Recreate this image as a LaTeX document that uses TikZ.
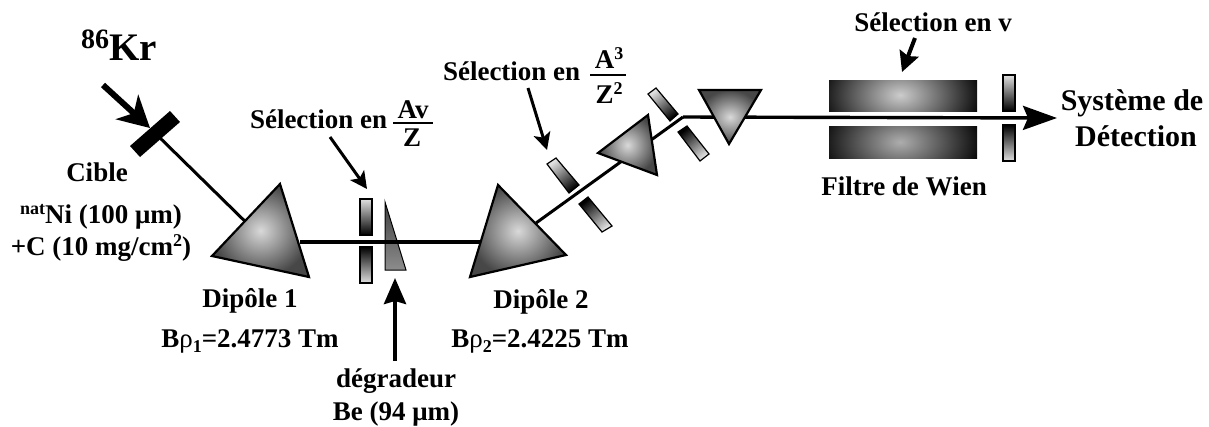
\documentclass[tikz,border=0pt]{standalone}
\usepackage{fontspec}
\setmainfont{Liberation Serif}
\usetikzlibrary{arrows.meta}
\newcommand{\fsz}[1]{\fontsize{#1}{#1}\selectfont\bfseries}
\tikzset{
  lbl/.style={inner sep=0pt,outer sep=0pt,anchor=base,font=\fsz{27}},
  lblbig/.style={lbl,font=\fsz{30}},
  beam/.style={line width=3.4pt,black},
  prism/.style={draw=black,line width=2.2pt,line join=miter,inner color=black!15,outer color=black!72},
  uslit/.style={draw=black,line width=1.2pt,top color=black!12,middle color=black!40,bottom color=black},
  lslit/.style={draw=black,line width=1.2pt,top color=black,middle color=black!40,bottom color=black!12},
  ptr/.style={line width=3pt,-{Stealth[length=17pt,width=17pt,inset=4pt]}},
  bigptr/.style={line width=6pt,-{Stealth[length=31pt,width=33pt,inset=9pt]}},
  midptr/.style={line width=4pt,-{Stealth[length=26pt,width=22pt,inset=3pt]}},
  fbar/.style={line width=2pt}
}
\begin{document}
\begin{tikzpicture}[x=1pt,y=-1pt]
\useasboundingbox[fill=white] (0,0) rectangle (1209,426);
% beam coordinates
\coordinate (tgt) at (155,133);
\coordinate (d1) at (262,238);
\coordinate (b1) at (300,242);
\coordinate (b2) at (482,242);
\coordinate (b3) at (536,223);
\coordinate (b4) at (683,117);
\coordinate (b5) at (1057,118);
% slits and degrader
\shade[uslit] (360,199) rectangle (372,235);
\shade[lslit] (360,247) rectangle (372,283);
\shade[draw=black,line width=1pt,top color=black!75,bottom color=black!45] (385,202) -- (406,270) -- (385,270) -- cycle;
\shade[uslit,shading angle=39] (556,158) -- (547,164) -- (569,193) -- (579,185) -- cycle;
\shade[lslit,shading angle=39] (588,197) -- (579,204) -- (602,232) -- (612,226) -- cycle;
\shade[uslit,shading angle=39] (656,88) -- (648,94) -- (670,121) -- (678,114) -- cycle;
\shade[lslit,shading angle=39] (687,126) -- (678,132) -- (700,161) -- (709,154) -- cycle;
% Wien filter
\begin{scope}
\clip (829,80) rectangle (977,111);
\fill[black] (829,80) rectangle (977,111);
\shade[inner color=black!20,outer color=black] (815,40) rectangle (985,150);
\end{scope}
\begin{scope}
\clip (829,126) rectangle (977,158);
\fill[black] (829,126) rectangle (977,158);
\shade[inner color=black!32,outer color=black] (815,90) rectangle (985,194);
\end{scope}
\shade[uslit] (1003,75) rectangle (1015,111);
\shade[lslit] (1003,125) rectangle (1015,161);
% beam
\draw[line width=3pt] (tgt) -- (d1);
\draw[beam] (b1) -- (b2);
\draw[line width=3pt] (b3) -- (b4);
\draw[beam,-{Stealth[length=34pt,width=24pt,inset=5pt]}] (b4) -- (b5);
% prisms
\shade[prism] (280,184) -- (309,277) -- (212,256) -- cycle;
\shade[prism] (498,185) -- (566,255) -- (470,277) -- cycle;
\shade[prism] (648,115) -- (657,175) -- (598,153) -- cycle;
\shade[prism] (699,90) -- (761,90) -- (729,144) -- cycle;
% target
\fill[black] (170,111) -- (180,122) -- (140,157) -- (130,146) -- cycle;
% pointers
\coordinate (a0) at (103,85);
\coordinate (a1) at (150,128);
\draw[bigptr] (a0) -- (a1);
\coordinate (c0) at (330,137);
\coordinate (c1) at (367,189);
\draw[ptr] (c0) -- (c1);
\coordinate (e0) at (395,361);
\coordinate (e1) at (395,278);
\draw[midptr] (e0) -- (e1);
\coordinate (f0) at (528,88);
\coordinate (f1) at (547,150);
\draw[ptr] (f0) -- (f1);
\coordinate (g0) at (915,38);
\coordinate (g1) at (902,72);
\draw[line width=4pt,-{Stealth[length=20pt,width=20pt,inset=3pt]}] (g0) -- (g1);
% labels
\node[lbl,font=\fsz{39}] (kr) at (119,60) {\raisebox{12pt}{\fsz{28}86}Kr};
\node[lbl] (cible) at (97,181) {Cible};
\node[lbl] (ni) at (101,223) {\raisebox{9pt}{\fsz{18}nat}Ni (100 μm)};
\node[lbl] (c) at (101,255) {+C (10 mg/cm\raisebox{9pt}{\fsz{18}2})};
\node[lbl] (dip1) at (250,307) {Dipôle 1};
\node[lbl] (brho1) at (250,347) {B{\mdseries ρ}\raisebox{-5pt}{\fsz{18}1}=2.4773 Tm};
\node[lbl] (deg) at (396,387) {dégradeur};
\node[lbl] (be) at (396,420) {Be (94 μm)};
\node[lbl,anchor=base west] (sel1) at (250,128) {Sélection en};
\node[lbl] (av) at (413,118) {Av};
\node[lbl] (z1) at (412,146) {Z};
\coordinate (fa) at (393,123);
\coordinate (fb) at (433,123);
\draw[fbar] (fa) -- (fb);
\node[lbl,anchor=base west] (sel2) at (443,80) {Sélection en};
\node[lbl] (a3) at (609,68) {A\raisebox{9pt}{\fsz{18}3}};
\node[lbl] (z2) at (609,103) {Z\raisebox{9pt}{\fsz{18}2}};
\coordinate (fc) at (590,75);
\coordinate (fd) at (626,75);
\draw[fbar] (fc) -- (fd);
\node[lbl] (dip2) at (541,308) {Dipôle 2};
\node[lbl] (brho2) at (540,347) {B{\mdseries ρ}\raisebox{-5pt}{\fsz{18}2}=2.4225 Tm};
\node[lbl] (selv) at (933,31) {Sélection en v};
\node[lblbig] (sys) at (1132,110) {Système de};
\node[lblbig] (det) at (1136,146) {Détection};
\node[lbl] (wien) at (904,195) {Filtre de Wien};
\end{tikzpicture}
\end{document}
